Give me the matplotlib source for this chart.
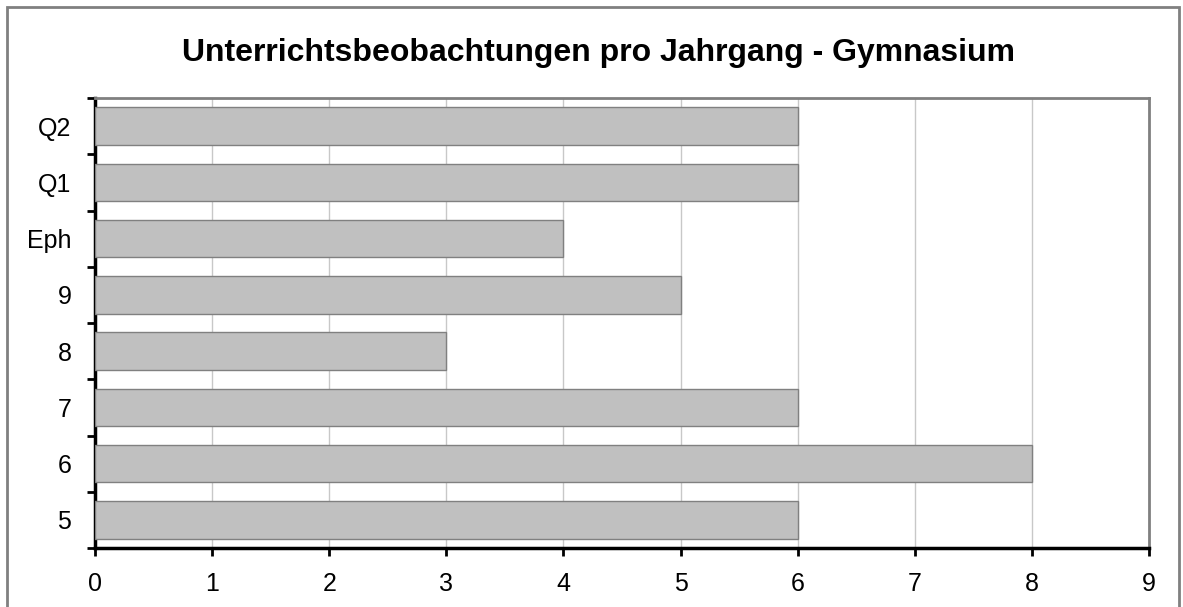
import matplotlib.pyplot as plt
from matplotlib.patches import Rectangle
import numpy as np

# daten
jahrgaenge = ["5", "6", "7", "8", "9", "Eph", "Q1", "Q2"]
anzahl = [6, 8, 6, 3, 5, 4, 6, 6]
x_ticks = list(range(0, 10))

plt.rcParams['font.family'] = ['Liberation Sans', 'DejaVu Sans']

fig = plt.figure(figsize=(11.83, 6.07), dpi=100)
ax = fig.add_axes([95 / 1183, 1 - 548 / 607, 1054 / 1183, 450 / 607])

pos = np.arange(len(jahrgaenge))
ax.barh(pos, anzahl, height=0.67, color='#c0c0c0', edgecolor='#808080',
        linewidth=1, zorder=3)

ax.set_xlim(0, 9)
ax.set_ylim(-0.5, len(jahrgaenge) - 0.5)
ax.set_xticks(x_ticks)
ax.set_xticklabels([str(t) for t in x_ticks], fontsize=18)
ax.xaxis.grid(True, color='#c8c8c8', linewidth=1, zorder=0)

# kategorien mittig, striche an den grenzen
ax.set_yticks(pos)
ax.set_yticklabels(jahrgaenge, fontsize=18)
ax.set_yticks(np.arange(-0.5, len(jahrgaenge)), minor=True)
ax.tick_params(axis='y', which='major', length=0, pad=17)
ax.tick_params(axis='y', which='minor', length=5.5, width=2, direction='out')
ax.tick_params(axis='x', length=5.5, width=2, direction='out', pad=12)

for s in ['left', 'bottom']:
    ax.spines[s].set_linewidth(2.5)
    ax.spines[s].set_color('black')
for s in ['top', 'right']:
    ax.spines[s].set_linewidth(2)
    ax.spines[s].set_color('#808080')

fig.text(598 / 1183, 1 - 53 / 607,
         "Unterrichtsbeobachtungen pro Jahrgang - Gymnasium",
         ha='center', va='center', fontsize=23, fontweight='bold')

# rahmen ums diagramm
fig.patches.append(Rectangle((7 / 1183, -0.02), 1172 / 1183, 1.02 - 7 / 607,
                             transform=fig.transFigure, fill=False,
                             edgecolor='#808080', linewidth=2))

fig.savefig("out.png", dpi=100)
